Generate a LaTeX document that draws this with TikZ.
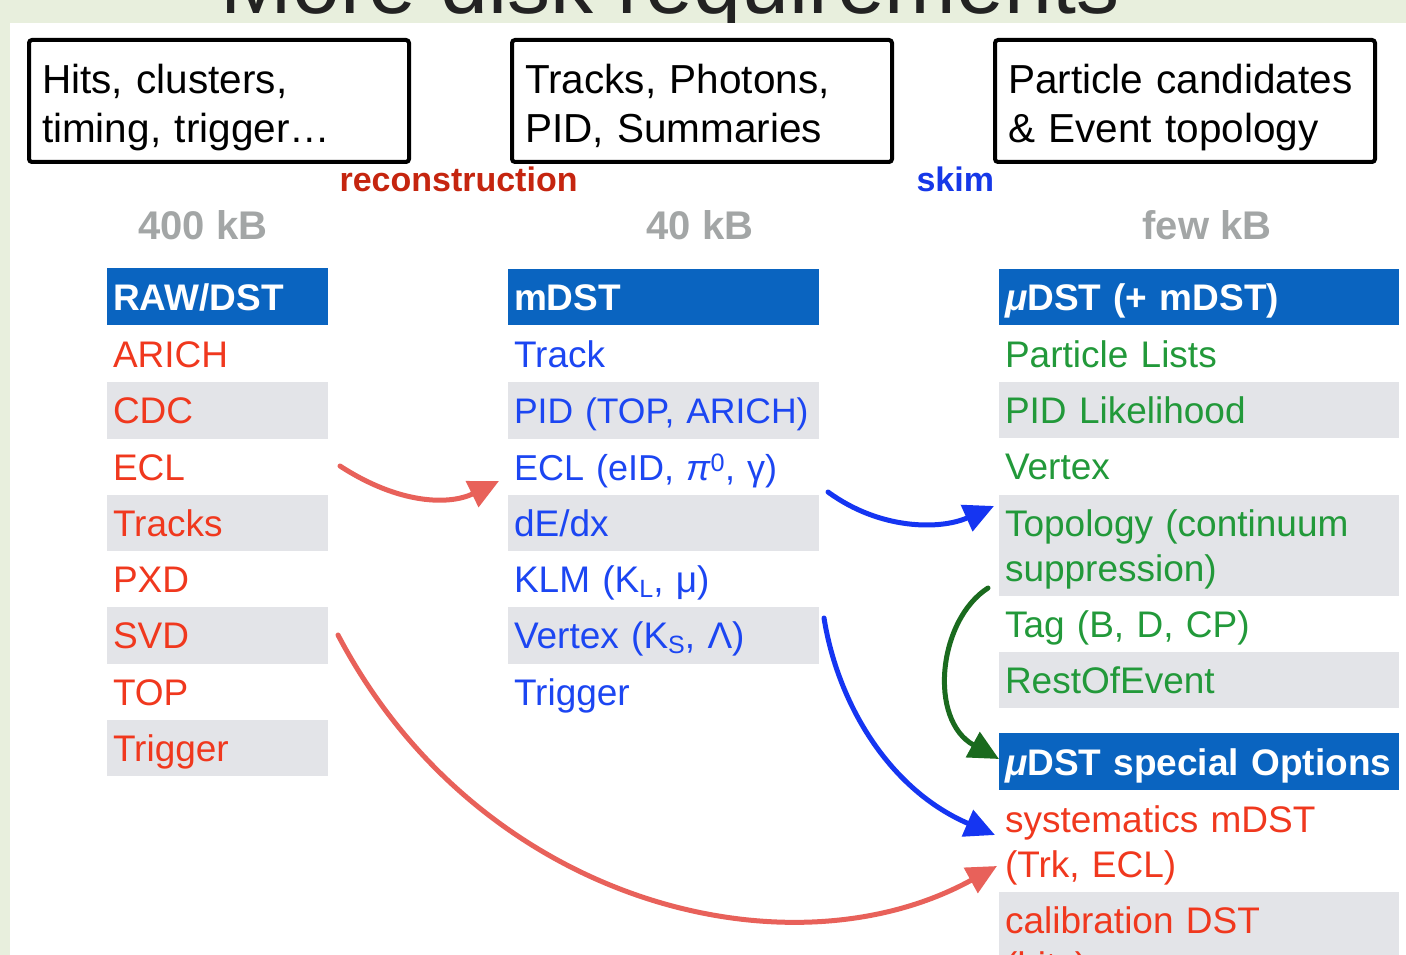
\documentclass[tikz,border=0pt]{standalone}
\usepackage{fontspec}
\setmainfont{Liberation Sans}
\usetikzlibrary{arrows.meta}
\definecolor{bggreen}{HTML}{E8EFDD}
\definecolor{hdrblue}{HTML}{0A64C0}
\definecolor{rowgray}{HTML}{E3E4E8}
\definecolor{redtxt}{HTML}{F0381E}
\definecolor{bluetxt}{HTML}{1C46F2}
\definecolor{greentxt}{HTML}{22993A}
\definecolor{recontxt}{HTML}{C5250F}
\definecolor{skimtxt}{HTML}{1638E8}
\definecolor{kbgray}{HTML}{A3A6A6}
\definecolor{arrred}{HTML}{E8615A}
\definecolor{arrblue}{HTML}{1535F2}
\definecolor{arrgreen}{HTML}{1A6A1E}
\definecolor{titlegray}{HTML}{222222}
\newcommand{\lsub}[1]{\raisebox{-0.12em}{\fontsize{25}{25}\selectfont #1}}
\begin{document}
\begin{tikzpicture}[x=1pt,y=-1pt,
  cell/.style={anchor=north west, inner xsep=6pt, inner ysep=0pt, outer sep=0pt,
    align=left, text height=27pt, text depth=0pt, font=\fontsize{37}{45}\selectfont},
  colL/.style={cell, minimum width=221pt, text width=209pt, minimum height=56.3pt, text=redtxt},
  colM/.style={cell, minimum width=311pt, text width=299pt, minimum height=56.3pt, text=bluetxt},
  colR/.style={cell, minimum width=400pt, text width=388pt, minimum height=56.3pt, text=greentxt},
  grayrow/.style={fill=rowgray},
  hdr/.style={fill=hdrblue, text=white, font=\bfseries\fontsize{37}{45}\selectfont},
  tworow/.style={text depth=45pt, minimum height=#1},
  topbox/.style={draw=black, line width=4pt, rounded corners=3pt, anchor=north west,
    minimum width=380pt, minimum height=122pt, text width=354pt, inner xsep=13pt,
    inner ysep=0pt, align=left, font=\fontsize{40.5}{49}\selectfont,
    text height=35pt, text depth=49pt},
  kblabel/.style={anchor=base, text=kbgray, font=\bfseries\fontsize{40}{46}\selectfont},
  steplabel/.style={anchor=base west, font=\bfseries\fontsize{34}{40}\selectfont},
  arr/.style={line width=5pt, line cap=round, -{Triangle[length=30pt,width=28pt]}}
]
\useasboundingbox (0,0) rectangle (1406,955);
\begin{scope}
\clip (0,0) rectangle (1406,955);
\fill[bggreen] (0,0) rectangle (1406,955);
\node[anchor=base, text=titlegray, font=\fontsize{86}{90}\selectfont] (title) at (670,14) {More disk requirements};
\fill[white] (10,23) rectangle (1406,955);

% top boxes
\node[topbox] (box1) at (27,38) {Hits, clusters,\\timing, trigger…};
\node[topbox] (box2) at (510,38) {Tracks, Photons,\\PID, Summaries};
\node[topbox] (box3) at (993,38) {Particle candidates\\\& Event topology};

% step labels
\node[steplabel, text=recontxt] (recon) at (336,192) {reconstruction};
\node[steplabel, text=skimtxt] (skim) at (913,192) {skim};

% sizes
\node[kblabel] (kb400) at (203,239) {400 kB};
\node[kblabel] (kb40) at (700,239) {40 kB};
\node[kblabel] (kbfew) at (1207,239) {few kB};

% left column
\node[colL, hdr, minimum height=57pt] (lH) at (107,268) {RAW/DST};
\node[colL] (lARICH) at (107,326) {ARICH};
\node[colL, grayrow] (lCDC) at (107,382.25) {CDC};
\node[colL] (lECL) at (107,438.5) {ECL};
\node[colL, grayrow] (lTracks) at (107,494.75) {Tracks};
\node[colL] (lPXD) at (107,551) {PXD};
\node[colL, grayrow] (lSVD) at (107,607.25) {SVD};
\node[colL] (lTOP) at (107,663.5) {TOP};
\node[colL, grayrow] (lTrigger) at (107,719.75) {Trigger};

% middle column
\node[colM, hdr, minimum height=56pt] (mH) at (508,269) {mDST};
\node[colM] (mTrack) at (508,326) {Track};
\node[colM, grayrow, font=\fontsize{35.5}{45}\selectfont] (mPID) at (508,382.25) {PID (TOP, ARICH)};
\node[colM, font=\fontsize{36}{45}\selectfont] (mECL) at (508,438.5) {ECL (eID, \textit{π}\textsuperscript{0}, γ)};
\node[colM, grayrow] (mdEdx) at (508,494.75) {dE/dx};
\node[colM] (mKLM) at (508,551) {KLM (K\lsub{L}, μ)};
\node[colM, grayrow] (mVertex) at (508,607.25) {Vertex (K\lsub{S}, Λ)};
\node[colM] (mTrigger) at (508,663.5) {Trigger};

% right column
\node[colR, hdr, minimum height=56pt] (rH) at (999,269) {{\itshape μ}DST (+ mDST)};
\node[colR] (rPL) at (999,326) {Particle Lists};
\node[colR, grayrow] (rPID) at (999,382) {PID Likelihood};
\node[colR] (rVertex) at (999,438) {Vertex};
\node[colR, grayrow, tworow=101pt] (rTopo) at (999,495) {Topology (continuum\\suppression)};
\node[colR] (rTag) at (999,596) {Tag (B, D, CP)};
\node[colR, grayrow] (rROE) at (999,652) {RestOfEvent};
\node[colR, hdr, minimum height=57pt] (rH2) at (999,733) {{\itshape μ}DST special Options};
\node[colR, text=redtxt, tworow=102pt] (rSys) at (999,790) {systematics mDST\\(Trk, ECL)};
\node[colR, grayrow, text=redtxt, tworow=101pt] (rCal) at (999,892) {calibration DST\\(hits)};

% arrows
\coordinate (r1s) at (340,466);
\coordinate (r1e) at (499,481);
\coordinate (b1s) at (828,492);
\coordinate (b1e) at (994,506);
\coordinate (gs) at (988,588);
\coordinate (ge) at (999,759);
\coordinate (b2s) at (824,618);
\coordinate (b2e) at (995,835);
\coordinate (r2s) at (338,635);
\coordinate (r2e) at (997,866);
\draw[arr, arrred] (r1s) .. controls (400,505) and (450,505) .. (r1e);
\draw[arr, arrblue] (b1s) .. controls (880,530) and (940,530) .. (b1e);
\draw[arr, arrgreen] (gs) .. controls (938,620) and (928,720) .. (ge);
\draw[arr, arrblue] (b2s) .. controls (838,705) and (890,790) .. (b2e);
\draw[arr, arrred] (r2s) .. controls (480,905) and (790,980) .. (r2e);
\end{scope}
\end{tikzpicture}
\end{document}
